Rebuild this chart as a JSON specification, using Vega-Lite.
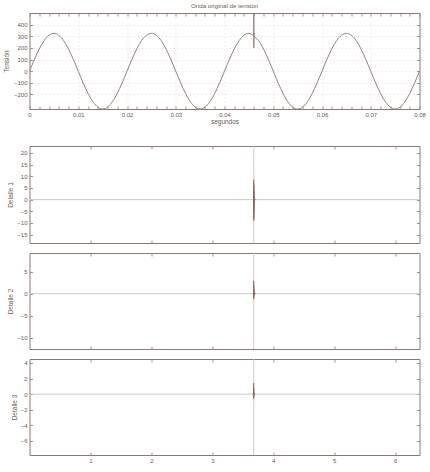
{
  "$schema": "https://vega.github.io/schema/vega-lite/v6.json",
  "padding": {"left": 2.5, "top": 2, "right": 8, "bottom": 0},
  "spacing": 19,
  "datasets": {
    "top": [
      {"t":0,"v":0},{"t":0.001,"v":100.4},{"t":0.002,"v":191.0},{"t":0.003,"v":262.9},{"t":0.004,"v":309.1},{"t":0.005,"v":325},{"t":0.006,"v":309.1},{"t":0.007,"v":262.9},{"t":0.008,"v":191.0},{"t":0.009,"v":100.4},
      {"t":0.010,"v":0},{"t":0.011,"v":-100.4},{"t":0.012,"v":-191.0},{"t":0.013,"v":-262.9},{"t":0.014,"v":-309.1},{"t":0.015,"v":-325},{"t":0.016,"v":-309.1},{"t":0.017,"v":-262.9},{"t":0.018,"v":-191.0},{"t":0.019,"v":-100.4},
      {"t":0.020,"v":0},{"t":0.021,"v":100.4},{"t":0.022,"v":191.0},{"t":0.023,"v":262.9},{"t":0.024,"v":309.1},{"t":0.025,"v":325},{"t":0.026,"v":309.1},{"t":0.027,"v":262.9},{"t":0.028,"v":191.0},{"t":0.029,"v":100.4},
      {"t":0.030,"v":0},{"t":0.031,"v":-100.4},{"t":0.032,"v":-191.0},{"t":0.033,"v":-262.9},{"t":0.034,"v":-309.1},{"t":0.035,"v":-325},{"t":0.036,"v":-309.1},{"t":0.037,"v":-262.9},{"t":0.038,"v":-191.0},{"t":0.039,"v":-100.4},
      {"t":0.040,"v":0},{"t":0.041,"v":100.4},{"t":0.042,"v":191.0},{"t":0.043,"v":262.9},{"t":0.044,"v":309.1},{"t":0.045,"v":325},{"t":0.046,"v":309.1},{"t":0.04601,"v":495},{"t":0.04602,"v":200},{"t":0.04603,"v":330},{"t":0.04605,"v":307},{"t":0.047,"v":262.9},{"t":0.048,"v":191.0},{"t":0.049,"v":100.4},
      {"t":0.050,"v":0},{"t":0.051,"v":-100.4},{"t":0.052,"v":-191.0},{"t":0.053,"v":-262.9},{"t":0.054,"v":-309.1},{"t":0.055,"v":-325},{"t":0.056,"v":-309.1},{"t":0.057,"v":-262.9},{"t":0.058,"v":-191.0},{"t":0.059,"v":-100.4},
      {"t":0.060,"v":0},{"t":0.061,"v":100.4},{"t":0.062,"v":191.0},{"t":0.063,"v":262.9},{"t":0.064,"v":309.1},{"t":0.065,"v":325},{"t":0.066,"v":309.1},{"t":0.067,"v":262.9},{"t":0.068,"v":191.0},{"t":0.069,"v":100.4},
      {"t":0.070,"v":0},{"t":0.071,"v":-100.4},{"t":0.072,"v":-191.0},{"t":0.073,"v":-262.9},{"t":0.074,"v":-309.1},{"t":0.075,"v":-325},{"t":0.076,"v":-309.1},{"t":0.077,"v":-262.9},{"t":0.078,"v":-191.0},{"t":0.079,"v":-100.4},
      {"t":0.080,"v":0}
    ],
    "base": [{"x":0,"v":0},{"x":6.4,"v":0}],
    "spike": [{"x":3.68}],
    "d1": [
      {"x":3.675,"v":0},{"x":3.677,"v":0.6},{"x":3.678,"v":8.5},{"x":3.6785,"v":-5},{"x":3.679,"v":7},{"x":3.6795,"v":-9},{"x":3.68,"v":6},{"x":3.6805,"v":-8},{"x":3.681,"v":4},{"x":3.6815,"v":-5},{"x":3.682,"v":2},{"x":3.683,"v":-1.5},{"x":3.684,"v":0.8},{"x":3.686,"v":-0.3},{"x":3.69,"v":0.2},{"x":3.7,"v":0.4},{"x":3.705,"v":0}
    ],
    "d2": [
      {"x":3.675,"v":0},{"x":3.678,"v":2.9},{"x":3.679,"v":-1.2},{"x":3.68,"v":2},{"x":3.681,"v":-0.8},{"x":3.682,"v":1},{"x":3.684,"v":-0.4},{"x":3.69,"v":0.3},{"x":3.7,"v":0.2},{"x":3.71,"v":0}
    ],
    "d3": [
      {"x":3.675,"v":0},{"x":3.678,"v":1.4},{"x":3.679,"v":-0.6},{"x":3.68,"v":0.8},{"x":3.682,"v":-0.3},{"x":3.69,"v":0.1},{"x":3.7,"v":0}
    ]
  },
  "vconcat": [
    {
      "title": "Onda original de tensión",
      "width": 390,
      "height": 96,
      "data": {"name": "top"},
      "layer": [
        {
          "mark": {"type": "line", "color": "#94807a", "strokeWidth": 1, "interpolate": "monotone", "clip": true},
          "encoding": {
            "x": {"field": "t", "type": "quantitative", "scale": {"domain": [0, 0.08], "nice": false, "zero": false},
              "axis": {"orient": "bottom", "title": "segundos", "titlePadding": 1,
                "values": [0,0.002,0.004,0.006,0.008,0.01,0.012,0.014,0.016,0.018,0.02,0.022,0.024,0.026,0.028,0.03,0.032,0.034,0.036,0.038,0.04,0.042,0.044,0.046,0.048,0.05,0.052,0.054,0.056,0.058,0.06,0.062,0.064,0.066,0.068,0.07,0.072,0.074,0.076,0.078,0.08],
                "labelExpr": "abs(datum.value*100-round(datum.value*100))<0.001 ? format(datum.value, '~g') : ''",
                "labelOverlap": false, "labelFlush": false,
                "grid": true, "gridDash": [1, 3], "gridColor": "#b0a49e",
                "gridOpacity": {"condition": {"test": "abs(datum.value*100-round(datum.value*100))<0.001 && datum.value>0 && datum.value<0.08", "value": 0.35}, "value": 0}}},
            "y": {"field": "v", "type": "quantitative", "scale": {"domain": [-325, 500], "nice": false, "zero": false},
              "axis": {"orient": "left", "title": "Tensión", "titleX": -20.5, "values": [-200,-100,0,100,200,300,400],
                "grid": true, "gridDash": [1, 3], "gridColor": "#b0a49e", "gridOpacity": 0.35}}
          }
        },
        {
          "mark": {"type": "line", "opacity": 0},
          "encoding": {
            "x": {"field": "t", "type": "quantitative",
              "axis": {"orient": "top", "labels": false, "title": null,
                "values": [0,0.002,0.004,0.006,0.008,0.01,0.012,0.014,0.016,0.018,0.02,0.022,0.024,0.026,0.028,0.03,0.032,0.034,0.036,0.038,0.04,0.042,0.044,0.046,0.048,0.05,0.052,0.054,0.056,0.058,0.06,0.062,0.064,0.066,0.068,0.07,0.072,0.074,0.076,0.078,0.08]}},
            "y": {"field": "v", "type": "quantitative",
              "axis": {"orient": "right", "labels": false, "title": null, "values": [-200,-100,0,100,200,300,400]}}
          }
        }
      ],
      "resolve": {"axis": {"x": "independent", "y": "independent"}}
    },
    {
      "spacing": 8,
      "vconcat": [
        {
          "width": 390,
          "height": 97,
          "layer": [
            {
              "data": {"name": "base"},
              "mark": {"type": "line", "color": "#d2c8c2", "strokeWidth": 1},
              "encoding": {
                "x": {"field": "x", "type": "quantitative", "scale": {"domain": [0, 6.4], "nice": false, "zero": false},
                  "axis": {"orient": "bottom", "labels": false, "title": null, "values": [1,2,3,4,5,6]}},
                "y": {"field": "v", "type": "quantitative", "scale": {"domain": [-18.6, 23], "nice": false, "zero": false},
                  "axis": {"orient": "left", "title": "Detalle 1", "titleX": -16.5, "values": [-15,-10,-5,0,5,10,15,20]}}
              }
            },
            {
              "data": {"name": "base"},
              "mark": {"type": "line", "opacity": 0},
              "encoding": {
                "x": {"field": "x", "type": "quantitative", "axis": {"orient": "top", "labels": false, "title": null, "values": [1,2,3,4,5,6]}},
                "y": {"field": "v", "type": "quantitative", "axis": {"orient": "right", "labels": false, "title": null, "values": [-15,-10,-5,0,5,10,15,20]}}
              }
            },
            {
              "data": {"name": "spike"},
              "mark": {"type": "rule", "color": "#d2c8c2", "strokeWidth": 1},
              "encoding": {"x": {"field": "x", "type": "quantitative", "axis": null}}
            },
            {
              "data": {"name": "d1"},
              "mark": {"type": "line", "color": "#86675e", "strokeWidth": 0.8, "clip": true},
              "encoding": {
                "x": {"field": "x", "type": "quantitative", "axis": null},
                "y": {"field": "v", "type": "quantitative", "axis": null}
              }
            }
          ],
          "resolve": {"axis": {"x": "independent", "y": "independent"}}
        },
        {
          "width": 390,
          "height": 96,
          "layer": [
            {
              "data": {"name": "base"},
              "mark": {"type": "line", "color": "#d2c8c2", "strokeWidth": 1},
              "encoding": {
                "x": {"field": "x", "type": "quantitative", "scale": {"domain": [0, 6.4], "nice": false, "zero": false},
                  "axis": {"orient": "bottom", "labels": false, "title": null, "values": [1,2,3,4,5,6]}},
                "y": {"field": "v", "type": "quantitative", "scale": {"domain": [-12.5, 9.2], "nice": false, "zero": false},
                  "axis": {"orient": "left", "title": "Detalle 2", "titleX": -16, "values": [-10,-5,0,5]}}
              }
            },
            {
              "data": {"name": "base"},
              "mark": {"type": "line", "opacity": 0},
              "encoding": {
                "x": {"field": "x", "type": "quantitative", "axis": {"orient": "top", "labels": false, "title": null, "values": [1,2,3,4,5,6]}},
                "y": {"field": "v", "type": "quantitative", "axis": {"orient": "right", "labels": false, "title": null, "values": [-10,-5,0,5]}}
              }
            },
            {
              "data": {"name": "spike"},
              "mark": {"type": "rule", "color": "#d2c8c2", "strokeWidth": 1},
              "encoding": {"x": {"field": "x", "type": "quantitative", "axis": null}}
            },
            {
              "data": {"name": "d2"},
              "mark": {"type": "line", "color": "#86675e", "strokeWidth": 0.8, "clip": true},
              "encoding": {
                "x": {"field": "x", "type": "quantitative", "axis": null},
                "y": {"field": "v", "type": "quantitative", "axis": null}
              }
            }
          ],
          "resolve": {"axis": {"x": "independent", "y": "independent"}}
        },
        {
          "width": 390,
          "height": 96,
          "layer": [
            {
              "data": {"name": "base"},
              "mark": {"type": "line", "color": "#d2c8c2", "strokeWidth": 1},
              "encoding": {
                "x": {"field": "x", "type": "quantitative", "scale": {"domain": [0, 6.4], "nice": false, "zero": false},
                  "axis": {"orient": "bottom", "title": null, "values": [1,2,3,4,5,6], "labelFlush": false}},
                "y": {"field": "v", "type": "quantitative", "scale": {"domain": [-7.8, 4.5], "nice": false, "zero": false},
                  "axis": {"orient": "left", "title": "Detalle 3", "titleX": -12.5, "values": [-6,-4,-2,0,2,4]}}
              }
            },
            {
              "data": {"name": "base"},
              "mark": {"type": "line", "opacity": 0},
              "encoding": {
                "x": {"field": "x", "type": "quantitative", "axis": {"orient": "top", "labels": false, "title": null, "values": [1,2,3,4,5,6]}},
                "y": {"field": "v", "type": "quantitative", "axis": {"orient": "right", "labels": false, "title": null, "values": [-6,-4,-2,0,2,4]}}
              }
            },
            {
              "data": {"name": "spike"},
              "mark": {"type": "rule", "color": "#d2c8c2", "strokeWidth": 1},
              "encoding": {"x": {"field": "x", "type": "quantitative", "axis": null}}
            },
            {
              "data": {"name": "d3"},
              "mark": {"type": "line", "color": "#86675e", "strokeWidth": 0.8, "clip": true},
              "encoding": {
                "x": {"field": "x", "type": "quantitative", "axis": null},
                "y": {"field": "v", "type": "quantitative", "axis": null}
              }
            }
          ],
          "resolve": {"axis": {"x": "independent", "y": "independent"}}
        }
      ]
    }
  ],
  "config": {
    "view": {"stroke": "#8b7a72", "strokeWidth": 1},
    "axis": {
      "domain": false,
      "grid": false,
      "ticks": true,
      "tickSize": -3,
      "tickWidth": 0.8,
      "tickColor": "#8b7a72",
      "labelPadding": 5.5,
      "labelFont": "Liberation Sans",
      "labelFontSize": 6,
      "labelColor": "#6a5a54",
      "titleFont": "Liberation Sans",
      "titleFontSize": 6.5,
      "titleFontWeight": "normal",
      "titleColor": "#6a5a54"
    },
    "title": {"font": "Liberation Sans", "fontSize": 6.2, "fontWeight": "normal", "color": "#6a5a54", "offset": 3}
  }
}
